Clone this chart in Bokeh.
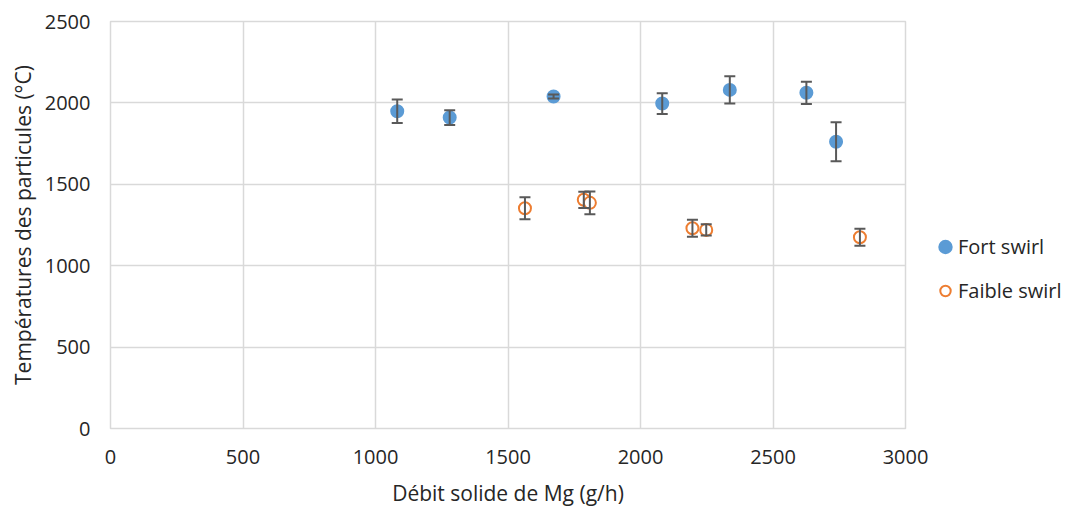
from bokeh.plotting import figure
from bokeh.models import ColumnDataSource, Whisker, TeeHead, Legend, LegendItem, Range1d, FixedTicker
from bokeh.embed import file_html
from bokeh.resources import INLINE

# Data
fort_x = [1082, 1280, 1672, 2082, 2337, 2626, 2738]
fort_y = [1949, 1910, 2039, 1996, 2080, 2062, 1761]
fort_err = [72, 45, 12, 64, 84, 68, 120]

faible_x = [1564, 1786, 1809, 2196, 2248, 2828]
faible_y = [1353, 1405, 1386, 1230, 1220, 1175]
faible_err = [67, 50, 70, 52, 35, 52]

x_ticks = [0, 500, 1000, 1500, 2000, 2500, 3000]
y_ticks = [0, 500, 1000, 1500, 2000, 2500]

FONT = "Open Sans"
TXT = "#262626"
GRID = "#d9d9d9"
BLUE = "#5b9bd5"
ORANGE = "#ed7d31"
ERR = "#595959"

p = figure(frame_width=795, frame_height=407, output_backend="svg", toolbar_location=None,
           x_range=Range1d(0, 3000), y_range=Range1d(0, 2500),
           min_border_left=110, min_border_top=21, min_border_right=170, min_border_bottom=60)

p.outline_line_color = GRID
p.outline_line_width = 1.5
for ax in (p.xaxis, p.yaxis):
    ax.axis_line_color = GRID
    ax.major_tick_line_color = None
    ax.minor_tick_line_color = None
    ax.major_label_text_font = FONT
    ax.major_label_text_font_size = "20px"
    ax.major_label_text_color = TXT
    ax.axis_label_text_font = FONT
    ax.axis_label_text_font_size = "21px"
    ax.axis_label_text_font_style = "normal"
    ax.axis_label_text_color = TXT

p.xaxis.ticker = FixedTicker(ticks=x_ticks)
p.yaxis.ticker = FixedTicker(ticks=y_ticks)
p.xaxis.axis_label = "Débit solide de Mg (g/h)"
p.yaxis.axis_label = "Températures des particules (°C)"
p.yaxis.major_label_standoff = 14
p.xaxis.major_label_standoff = 15
p.yaxis.axis_label_standoff = 5
p.xaxis.axis_label_standoff = 12

p.xgrid.grid_line_color = GRID
p.ygrid.grid_line_color = GRID
p.xgrid.grid_line_width = 1.5
p.ygrid.grid_line_width = 1.5
p.xgrid.ticker = FixedTicker(ticks=x_ticks)
p.ygrid.ticker = FixedTicker(ticks=y_ticks)

src_f = ColumnDataSource(dict(x=fort_x, y=fort_y,
                              lo=[a - b for a, b in zip(fort_y, fort_err)],
                              hi=[a + b for a, b in zip(fort_y, fort_err)]))
src_b = ColumnDataSource(dict(x=faible_x, y=faible_y,
                              lo=[a - b for a, b in zip(faible_y, faible_err)],
                              hi=[a + b for a, b in zip(faible_y, faible_err)]))

for src in (src_f, src_b):
    w = Whisker(source=src, base="x", lower="lo", upper="hi", dimension="height",
                line_color=ERR, line_width=2, level="glyph",
                upper_head=TeeHead(size=11, line_color=ERR, line_width=2),
                lower_head=TeeHead(size=11, line_color=ERR, line_width=2))
    p.add_layout(w)

r1 = p.scatter("x", "y", source=src_f, size=10, fill_color=BLUE, line_color=BLUE,
               line_width=4, marker="circle")
r2 = p.scatter("x", "y", source=src_b, size=12, fill_color="white", line_color=ORANGE,
               line_width=2, marker="circle")

legend = Legend(items=[LegendItem(label="Fort swirl", renderers=[r1]),
                       LegendItem(label="Faible swirl", renderers=[r2])],
                location=(27, 120), border_line_color=None, background_fill_alpha=0,
                label_text_font=FONT, label_text_font_size="20px", label_text_color=TXT,
                spacing=9, glyph_width=26, glyph_height=35, label_standoff=0,
                margin=0, padding=0)
p.add_layout(legend, "right")

open("out.html", "w").write(file_html(p, INLINE))
